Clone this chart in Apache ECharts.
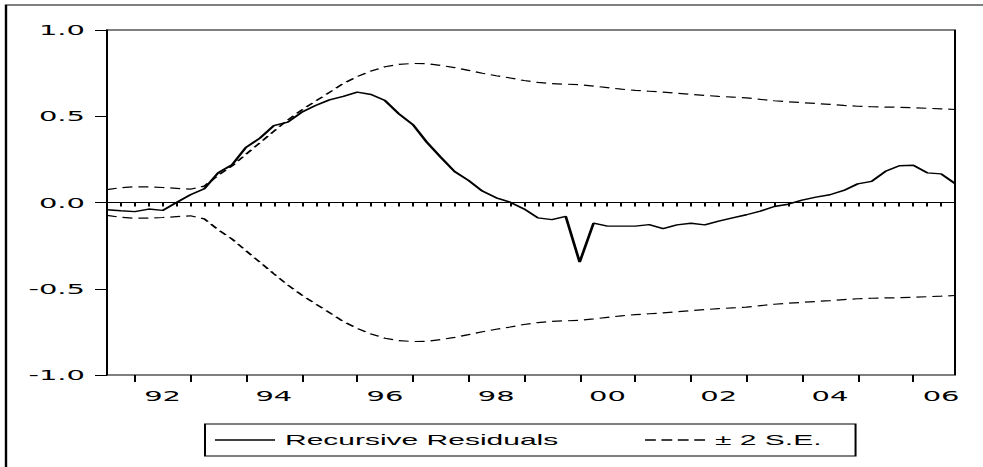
<!DOCTYPE html>
<html><head><meta charset="utf-8">
<script src="https://cdn.jsdelivr.net/npm/echarts@6/dist/echarts.min.js"></script>
<style>
html,body{margin:0;padding:0;background:#fff;overflow:hidden;}
#main{width:491.5px;height:467px;transform:scaleX(2);transform-origin:0 0;}
</style></head>
<body><div id="main"></div>
<script>
// Quarterly observations 1991Q3 - 2006Q4
const quarters = [
 '1991Q3','1991Q4',
 '1992Q1','1992Q2','1992Q3','1992Q4',
 '1993Q1','1993Q2','1993Q3','1993Q4',
 '1994Q1','1994Q2','1994Q3','1994Q4',
 '1995Q1','1995Q2','1995Q3','1995Q4',
 '1996Q1','1996Q2','1996Q3','1996Q4',
 '1997Q1','1997Q2','1997Q3','1997Q4',
 '1998Q1','1998Q2','1998Q3','1998Q4',
 '1999Q1','1999Q2','1999Q3','1999Q4',
 '2000Q1','2000Q2','2000Q3','2000Q4',
 '2001Q1','2001Q2','2001Q3','2001Q4',
 '2002Q1','2002Q2','2002Q3','2002Q4',
 '2003Q1','2003Q2','2003Q3','2003Q4',
 '2004Q1','2004Q2','2004Q3','2004Q4',
 '2005Q1','2005Q2','2005Q3','2005Q4',
 '2006Q1','2006Q2','2006Q3','2006Q4'
];
const residuals = [
 -0.042,-0.048,
 -0.053,-0.038,-0.046,0.000,
 0.045,0.080,0.172,0.219,
 0.320,0.373,0.446,0.466,
 0.523,0.562,0.595,0.615,
 0.640,0.626,0.591,0.514,
 0.452,0.350,0.263,0.180,
 0.128,0.066,0.027,0.002,
 -0.037,-0.089,-0.099,-0.081,
 -0.346,-0.120,-0.137,-0.137,
 -0.137,-0.128,-0.151,-0.130,
 -0.120,-0.130,-0.108,-0.089,
 -0.071,-0.050,-0.023,-0.010,
 0.014,0.031,0.045,0.070,
 0.108,0.122,0.181,0.213,
 0.216,0.172,0.166,0.110
];
const upperSE = [
 0.075,0.086,
 0.091,0.090,0.087,0.082,
 0.077,0.095,0.158,0.212,
 0.280,0.346,0.413,0.478,
 0.536,0.588,0.638,0.690,
 0.730,0.762,0.787,0.801,
 0.806,0.805,0.795,0.782,
 0.766,0.749,0.735,0.722,
 0.707,0.696,0.689,0.686,
 0.683,0.675,0.666,0.657,
 0.650,0.645,0.640,0.633,
 0.627,0.621,0.615,0.611,
 0.607,0.598,0.590,0.584,
 0.579,0.574,0.569,0.563,
 0.558,0.555,0.553,0.552,
 0.550,0.546,0.543,0.539
];
const lowerSE = [
 -0.075,-0.086,
 -0.091,-0.090,-0.087,-0.082,
 -0.077,-0.095,-0.158,-0.212,
 -0.280,-0.346,-0.413,-0.478,
 -0.536,-0.588,-0.638,-0.690,
 -0.730,-0.762,-0.787,-0.801,
 -0.806,-0.805,-0.795,-0.782,
 -0.766,-0.749,-0.735,-0.722,
 -0.707,-0.696,-0.689,-0.686,
 -0.683,-0.675,-0.666,-0.657,
 -0.650,-0.645,-0.640,-0.633,
 -0.627,-0.621,-0.615,-0.611,
 -0.607,-0.598,-0.590,-0.584,
 -0.579,-0.574,-0.569,-0.563,
 -0.558,-0.555,-0.553,-0.552,
 -0.550,-0.546,-0.543,-0.539
];
const xTickCats   = ['1992Q3','1994Q3','1996Q3','1998Q3','2000Q3','2002Q3','2004Q3','2006Q3'];
const xTickLabels = ['92','94','96','98','00','02','04','06'];
const yTickLabels = ['-1.0','-0.5','0.0','0.5','1.0'];
const seriesNames = ['Recursive Residuals','\u00b1 2 S.E.'];

const axisFont = {fontFamily:'DejaVu Sans', fontSize:14.5, color:'#000'};
const dashIcon = 'path://M0,0h5.4v1.5h-5.4zM8.2,0h5.4v1.5h-5.4zM16.4,0h5.4v1.5h-5.4zM24.6,0h5.4v1.5h-5.4z';

const chart = echarts.init(document.getElementById('main'), null, {renderer:'svg', width:491.5, height:467});
chart.setOption({
  animation:false,
  backgroundColor:'#fff',
  color:['#000','#000','#000'],
  graphic:[{
    type:'rect', x:3, y:5, silent:true,
    shape:{x:0,y:0,width:700,height:700},
    style:{fill:'none', stroke:'#000', lineWidth:1.2}
  }],
  grid:{left:53.5, right:14, top:30, bottom:92, show:true, borderColor:'#000', borderWidth:1, backgroundColor:'transparent'},
  legend:{
    left:102.5, top:424, orient:'horizontal',
    padding:[7,17,7,5], itemGap:43.3, itemWidth:30, itemHeight:1.5,
    borderColor:'#000', borderWidth:1, borderRadius:0, selectedMode:false,
    itemStyle:{borderWidth:0, color:'#000'},
    textStyle:{fontFamily:'Liberation Sans', fontSize:15, color:'#000', lineHeight:18},
    data:[{name:seriesNames[0], icon:'rect'},{name:seriesNames[1], icon:dashIcon}]
  },
  xAxis:[{
    type:'category', data:quarters, boundaryGap:false, position:'bottom',
    axisLine:{show:true, lineStyle:{color:'#000', width:1}},
    axisTick:{show:true, interval:0, length:4, lineStyle:{color:'#000', width:1}},
    axisLabel:Object.assign({
      interval:(i, v) => xTickCats.indexOf(v) >= 0,
      formatter:(v) => { const k = xTickCats.indexOf(v); return k >= 0 ? xTickLabels[k] : ''; },
      margin:13
    }, axisFont),
    splitLine:{show:false}
  },{
    type:'category', data:quarters, boundaryGap:false, position:'bottom', gridIndex:0,
    axisLine:{show:false},
    axisTick:{show:true, interval:(i, v) => /Q1$/.test(v), length:7, lineStyle:{color:'#000', width:1}},
    axisLabel:{show:false}, splitLine:{show:false}
  }],
  yAxis:{
    type:'value', min:-1, max:1, interval:0.5,
    axisLine:{show:true, lineStyle:{color:'#000', width:1}},
    axisTick:{show:true, length:6, lineStyle:{color:'#000', width:1}},
    axisLabel:Object.assign({
      margin:11,
      formatter:(v) => yTickLabels[Math.round((v + 1) / 0.5)]
    }, axisFont),
    splitLine:{show:false}
  },
  series:[{
    name:seriesNames[0], type:'line', data:residuals, symbol:'none', z:4,
    lineStyle:{color:'#000', width:1.4},
    markLine:{silent:true, symbol:'none', label:{show:false}, animation:false,
      lineStyle:{color:'#000', width:1, type:'solid'}, data:[{yAxis:0}]}
  },{
    name:seriesNames[1], type:'line', data:upperSE, symbol:'none', z:3,
    lineStyle:{color:'#000', width:1.2, type:[5,3]}
  },{
    name:seriesNames[1], type:'line', data:lowerSE, symbol:'none', z:3,
    lineStyle:{color:'#000', width:1.2, type:[5,3]}
  }]
});
</script>
</body></html>
